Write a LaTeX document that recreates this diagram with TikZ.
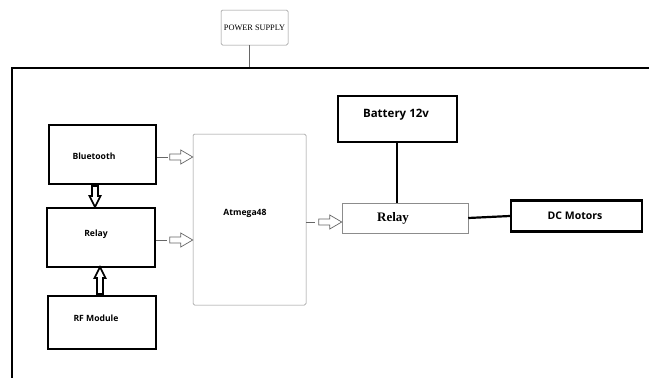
\documentclass[tikz,border=0pt]{standalone}
\usepackage{fontspec}
\setmainfont{Liberation Serif}
\newfontfamily\boxfont{Open Sans}
\begin{document}
\begin{tikzpicture}[x=1pt,y=-1pt,
  thickbox/.style={draw=black,line width=2.2pt},
  lbl/.style={font=\boxfont\bfseries\fontsize{8.6}{10}\selectfont},
  thinbox/.style={draw=black!45,line width=0.5pt,rounded corners=1.5pt},
  hollowh/.pic={\draw[pic actions] (0,0) -- (-12,-7) -- (-12,-3) -- (-23,-3) -- (-23,3) -- (-12,3) -- (-12,7) -- cycle;},
  hollowv/.pic={\draw[pic actions] (0,0) -- (-11,-5.5) -- (-11,-3) -- (-\arrlen,-3) -- (-\arrlen,3) -- (-11,3) -- (-11,5.5) -- cycle;},
  harrow/.style={draw=black!60,line width=0.7pt,fill=white},
  varrow/.style={draw=black,line width=1.6pt,fill=white},
  stem/.style={black!60,line width=0.7pt},
  wire/.style={line width=2.2pt}]
\def\arrlen{21}
\useasboundingbox (0,0) rectangle (649,378);
% power supply
\node[thinbox,minimum width=67pt,minimum height=35pt,font=\fontsize{8.3}{9}\selectfont,inner sep=1pt] (ps) at (254.5,27.5) {POWER SUPPLY};
\coordinate (frametop) at (249,68);
\draw[black!60,line width=0.6pt] (ps.south -| frametop) -- (frametop);
% frame
\draw[line width=2.2pt] (649,68) -- (12,68) -- (12,378);
% left column
\node[thickbox,minimum width=107pt,minimum height=59pt] (bt) at (102.5,154.5) {};
\node[lbl] at (94,156) {Bluetooth};
\node[thickbox,minimum width=108pt,minimum height=59pt] (rl) at (101,237.5) {};
\node[lbl] at (96,234) {Relay};
\node[thickbox,minimum width=108pt,minimum height=53pt] (rf) at (102,322.5) {};
\node[lbl] at (96,318) {RF Module};
% atmega
\node[thinbox,minimum width=113pt,minimum height=171pt] (atm) at (249.5,219.5) {};
\node[lbl] at (245,213) {Atmega48};
% right side
\node[thickbox,minimum width=119pt,minimum height=46pt] (bat) at (397.5,119) {};
\node[font=\boxfont\bfseries\fontsize{11.5}{13}\selectfont] at (396,115) {Battery 12v};
\node[draw=black!45,line width=0.5pt,minimum width=126pt,minimum height=30pt] (rr) at (405,218) {};
\node[font=\bfseries\fontsize{13}{15}\selectfont] at (393,218) {Relay};
\node[thickbox,minimum width=131pt,minimum height=31pt] (dc) at (576.5,216) {};
\node[font=\boxfont\bfseries\fontsize{10.5}{12}\selectfont] at (575,216) {DC Motors};
% wires
\draw[wire] (bat.south -| 397,0) -- (rr.north -| 397,0);
\draw[wire] (rr.east) -- (dc.west);
% hollow arrows into atmega
\draw[stem] (bt.east |- 0,157) -- ++(11,0);
\pic[harrow] at (atm.west |- 0,157) {hollowh};
\draw[stem] (rl.east |- 0,240) -- ++(11,0);
\pic[harrow] at (atm.west |- 0,240) {hollowh};
\draw[stem] (atm.east |- 0,222) -- ++(9,0);
\pic[harrow] at (rr.west |- 0,222) {hollowh};
% vertical arrows
\coordinate (vd) at (95,207);
\pic[varrow,rotate=-90] at (vd) {hollowv};
\coordinate (vt) at (100,267);
\def\arrlen{27}
\pic[varrow,rotate=90] at (vt) {hollowv};
\end{tikzpicture}
\end{document}
